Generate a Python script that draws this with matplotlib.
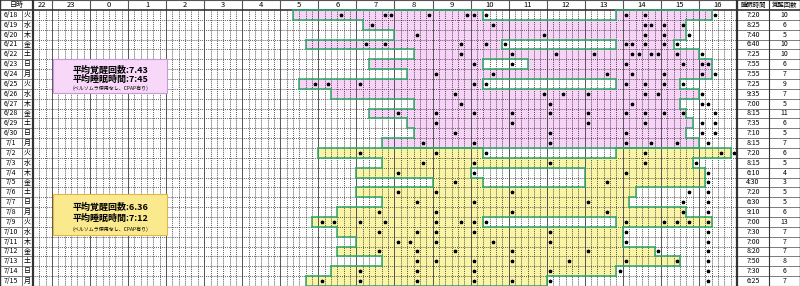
import numpy as np
import matplotlib.pyplot as plt
from matplotlib.patches import Rectangle
from matplotlib.collections import LineCollection

plt.rcParams['font.family'] = ['Noto Sans CJK JP', 'DejaVu Sans']

dates = ['6/18', '6/19', '6/20', '6/21', '6/22', '6/23', '6/24', '6/25', '6/26', '6/27',
         '6/28', '6/29', '6/30', '7/1', '7/2', '7/3', '7/4', '7/5', '7/6', '7/7',
         '7/8', '7/9', '7/10', '7/11', '7/12', '7/13', '7/14', '7/15']
weekdays = ['火', '水', '木', '金', '土', '日', '月', '火', '水', '木', '金', '土', '日', '月',
            '火', '水', '木', '金', '土', '日', '月', '火', '水', '木', '金', '土', '日', '月']
sleep_time = ['7:20', '8:25', '7:40', '6:40', '7:25', '7:55', '7:55', '7:25', '9:35', '7:00',
              '8:15', '7:35', '7:10', '8:15', '7:20', '8:15', '6:10', '4:30', '7:20', '6:30',
              '9:10', '7:00', '7:30', '7:00', '8:20', '7:50', '7:30', '6:25']
wake_count = [10, 6, 5, 10, 10, 6, 7, 9, 7, 5, 11, 6, 5, 7,
              6, 5, 4, 3, 5, 5, 6, 13, 7, 7, 7, 8, 6, 7]
hour_labels = ['22', '23', '0', '1', '2', '3', '4', '5', '6', '7', '8', '9',
               '10', '11', '12', '13', '14', '15', '16']

# sleep periods (start, end) per night
sleep_spans = [
    [('5:20', '10:20'), ('13:50', '16:20')],
    [('7:10', '15:40')],
    [('8:00', '15:40')],
    [('5:40', '10:50'), ('13:50', '15:20')],
    [('8:30', '16:00')],
    [('7:20', '10:20'), ('11:30', '16:20')],
    [('8:20', '16:20')],
    [('5:30', '10:20'), ('13:50', '15:30')],
    [('6:20', '16:00')],
    [('8:30', '15:30')],
    [('7:20', '15:40')],
    [('8:20', '15:50')],
    [('8:30', '15:40')],
    [('7:40', '16:00')],
    [('6:00', '10:20'), ('13:50', '16:50')],
    [('7:40', '15:50')],
    [('7:00', '10:00'), ('13:00', '16:10')],
    [('9:00', '10:20'), ('13:00', '16:10')],
    [('7:00', '14:20')],
    [('7:40', '14:10')],
    [('6:30', '15:40')],
    [('5:50', '10:20'), ('13:50', '16:20')],
    [('6:30', '14:00')],
    [('7:00', '14:00')],
    [('6:30', '14:50')],
    [('7:40', '15:30')],
    [('6:20', '13:50')],
    [('5:40', '12:00')],
]

# awakenings (10 minute cell where the mark sits)
wake_marks = [
    ['6:30', '7:40', '7:50', '8:50', '9:50', '10:00', '10:20', '14:00', '14:30', '16:20'],
    ['7:20', '10:30', '14:30', '14:40', '15:00', '15:30'],
    ['8:30', '11:50', '14:30', '15:00', '15:40'],
    ['7:10', '7:40', '9:40', '10:20', '10:50', '14:00', '14:10', '14:30', '15:00', '15:20'],
    ['9:40', '11:00', '12:10', '13:10', '14:10', '14:20', '14:40', '14:50', '15:20', '16:00'],
    ['10:00', '11:00', '14:00', '15:30', '16:00', '16:10'],
    ['9:00', '10:30', '13:30', '14:10', '15:00', '16:00', '16:20'],
    ['5:50', '6:10', '7:00', '10:00', '10:20', '14:00', '14:30', '15:00', '15:30'],
    ['9:30', '11:50', '12:20', '13:00', '14:30', '14:50', '16:00'],
    ['9:40', '12:00', '14:10', '16:00', '16:10'],
    ['8:00', '9:00', '10:00', '11:00', '12:00', '13:00', '14:00', '14:30', '15:00', '15:30', '16:20'],
    ['9:00', '11:00', '13:00', '14:30', '16:00', '16:20'],
    ['9:30', '12:00', '14:00', '16:00', '16:20'],
    ['8:40', '10:00', '12:00', '14:00', '14:40', '15:20', '16:10'],
    ['7:00', '9:00', '10:20', '14:30', '16:30', '16:50'],
    ['8:40', '10:00', '12:00', '14:30', '15:50'],
    ['8:00', '10:00', '14:00', '16:10'],
    ['9:30', '13:30', '16:10'],
    ['8:00', '9:00', '11:00', '15:40', '16:10'],
    ['8:30', '10:00', '13:00', '15:30', '16:10'],
    ['7:30', '9:00', '11:00', '13:30', '15:30', '16:10'],
    ['6:00', '6:20', '7:00', '7:40', '9:00', '9:40', '10:00', '10:20', '14:00', '15:00', '15:20', '15:40', '16:10'],
    ['7:30', '8:30', '9:00', '10:00', '12:00', '14:00', '16:10'],
    ['8:00', '8:20', '9:00', '10:30', '12:00', '14:00', '16:10'],
    ['7:30', '8:30', '9:30', '11:00', '13:00', '14:50', '16:10'],
    ['8:30', '9:00', '10:00', '11:00', '12:30', '14:00', '15:20', '16:10'],
    ['7:00', '8:30', '10:00', '12:00', '13:50', '16:10'],
    ['6:00', '7:00', '8:30', '10:00', '11:00', '12:00', '16:10'],
]

groups = [(0, 14), (14, 28)]
group_fill = ['#f7d4f7', '#faf5a6']
summary_lines = [['平均覚醒回数:7.43', '平均睡眠時間:7:45', '(ベルソムラ使用なし、CPAP有り)'],
                 ['平均覚醒回数:6.36', '平均睡眠時間:7:12', '(ベルソムラ使用なし、CPAP有り)']]
summary_box = [('#f7d8f8', '#c99ad8'), ('#fbe98e', '#e0b84a')]


def to_hours(s):
    h, m = s.split(':')
    t = int(h) + int(m) / 60
    if t < 20:
        t += 24
    return t


T0, T1 = 22.5, 41.0     # visible time range of the grid
PX = 38.06               # pixels per hour
XL = 24 - 90 / PX
XR = 24 + 710 / PX
DATE_SPLIT = XL + 22 / PX
COL2 = 24 + 679 / PX
HEAD = 10 / 9.86
n = len(dates)

fig = plt.figure(figsize=(8, 2.86), dpi=100)
ax = fig.add_axes([0, 0, 1, 1])
ax.set_xlim(XL, XR)
ax.set_ylim(n, -HEAD)
ax.axis('off')

# sleep fill
for g, (a, b) in enumerate(groups):
    for i in range(a, b):
        for s, e in sleep_spans[i]:
            ax.add_patch(Rectangle((to_hours(s), i), to_hours(e) - to_hours(s), 1,
                                   facecolor=group_fill[g], edgecolor='none', zorder=1))

# grid: 10 minute dotted lines, hour solid lines
ticks = np.arange(T0, T1 + 1e-6, 1 / 6)
for t in ticks:
    if abs(t - round(t)) < 1e-6:
        ax.plot([t, t], [0, n], color='#555555', lw=0.7, zorder=2)
    else:
        ax.plot([t, t], [0, n], color='#222222', lw=0.6, ls=(0, (1, 1.3)), zorder=2)
for i in range(1, n):
    ax.plot([T0, T1], [i, i], color='#333333', lw=0.6, ls=(0, (1, 1.3)), zorder=2)
    ax.plot([XL, T0], [i, i], color='#666666', lw=0.6, zorder=2)
    ax.plot([T1, XR], [i, i], color='#666666', lw=0.6, zorder=2)

# header
for h in range(23, 42):
    ax.plot([h, h], [-HEAD, 0], color='#555555', lw=0.8, zorder=2)
ax.plot([XL, XR], [0, 0], color='#333333', lw=1.2, zorder=3)
ax.plot([XL, XR], [-HEAD + 0.02, -HEAD + 0.02], color='#555555', lw=0.8, zorder=3)
ax.plot([XL, XR], [n - 0.02, n - 0.02], color='#555555', lw=0.8, zorder=3)
for x, w in [(XL + 0.01, 1.0), (T0, 1.6), (T1, 1.6), (COL2, 0.8), (XR - 0.01, 1.0)]:
    ax.plot([x, x], [-HEAD, n], color='#333333', lw=w, zorder=3)
ax.plot([DATE_SPLIT, DATE_SPLIT], [0, n], color='#666666', lw=0.6, zorder=3)

hpos = [22.75] + [h + 0.5 for h in range(23, 41)]
for x, lab in zip(hpos, hour_labels):
    ax.text(x, -HEAD / 2, lab, ha='center', va='center', fontsize=5.5, zorder=4)
ax.text((XL + T0) / 2, -HEAD / 2, '日時', ha='center', va='center', fontsize=5, zorder=4)
ax.text((T1 + COL2) / 2, -HEAD / 2, '睡眠時間', ha='center', va='center', fontsize=4.6, zorder=4)
ax.text((COL2 + XR) / 2, -HEAD / 2, '覚醒回数', ha='center', va='center', fontsize=4.6, zorder=4)

for i in range(n):
    ax.text((XL + DATE_SPLIT) / 2, i + 0.5, dates[i], ha='center', va='center', fontsize=5, zorder=4)
    ax.text((DATE_SPLIT + T0) / 2, i + 0.5, weekdays[i], ha='center', va='center', fontsize=5, zorder=4)
    ax.text((T1 + COL2) / 2, i + 0.5, sleep_time[i], ha='center', va='center', fontsize=5, zorder=4)
    ax.text((COL2 + XR) / 2, i + 0.5, str(wake_count[i]), ha='center', va='center', fontsize=5, zorder=4)

# green outline around the sleep area of each group
cells = np.arange(T0, T1, 1 / 6)
for a, b in groups:
    grid = np.zeros((b - a + 2, len(cells) + 2), dtype=bool)
    for i in range(a, b):
        for s, e in sleep_spans[i]:
            grid[i - a + 1, 1:-1] |= (cells + 1 / 12 > to_hours(s)) & (cells + 1 / 12 < to_hours(e))
    segs = []
    for r in range(grid.shape[0]):
        for c in range(grid.shape[1]):
            x0 = T0 + (c - 1) / 6
            y0 = a + r - 1
            if c + 1 < grid.shape[1] and grid[r, c] != grid[r, c + 1]:
                segs.append([(x0 + 1 / 6, y0), (x0 + 1 / 6, y0 + 1)])
            if r + 1 < grid.shape[0] and grid[r, c] != grid[r + 1, c]:
                segs.append([(x0, y0 + 1), (x0 + 1 / 6, y0 + 1)])
    ax.add_collection(LineCollection(segs, colors='#34a86a', linewidths=1.1,
                                     capstyle='projecting', zorder=5))

# awakening marks
for i, marks in enumerate(wake_marks):
    xs = [to_hours(m) + 1 / 12 for m in marks]
    ax.plot(xs, [i + 0.5] * len(xs), ls='none', marker='*', ms=2.4, color='black', zorder=6)

# summary boxes
for g, (a, b) in enumerate([(4.97, 8.42), (18.66, 22.82)]):
    ax.add_patch(Rectangle((23.03, a), 2.99, b - a, facecolor=summary_box[g][0],
                           edgecolor=summary_box[g][1], lw=0.8, zorder=7))
    ys = [a + (b - a) * 0.32, a + (b - a) * 0.6, a + (b - a) * 0.87]
    ax.text(24.53, ys[0], summary_lines[g][0], ha='center', va='center', fontsize=6.5,
            fontweight='bold', zorder=8)
    ax.text(24.53, ys[1], summary_lines[g][1], ha='center', va='center', fontsize=6.5,
            fontweight='bold', zorder=8)
    ax.text(24.53, ys[2], summary_lines[g][2], ha='center', va='center', fontsize=3.6, zorder=8)

fig.savefig('out.png', dpi=100)
